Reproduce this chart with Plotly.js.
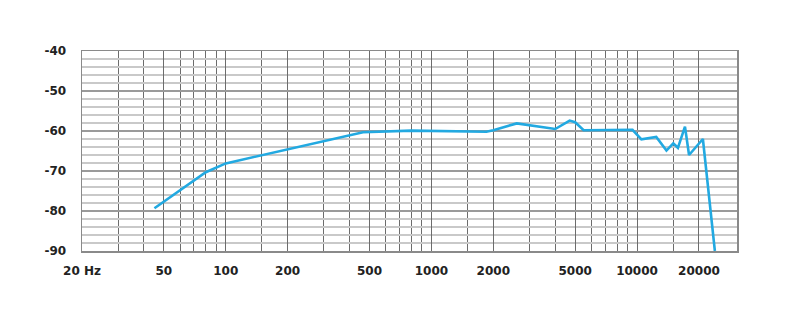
<!DOCTYPE html>
<html>
<head>
<meta charset="utf-8">
<script src="https://cdn.plot.ly/plotly-3.0.1.min.js"></script>
<style>
html,body{margin:0;padding:0;background:#fff;}
#chart{width:793px;height:320px;}
</style>
</head>
<body>
<div id="chart"></div>
<script>
// Frequency response data (Hz, dB)
var freqHz = [45, 80, 100, 150, 200, 300, 465, 800, 1000, 1850, 2000, 2600, 4000, 4700, 5000, 5500, 9500, 10500, 12400, 13900, 15000, 15800, 17100, 17900, 20900, 23900];
var levelDb = [-79.3, -70.3, -68.1, -66.0, -64.6, -62.6, -60.3, -59.9, -60.0, -60.2, -59.8, -58.1, -59.5, -57.4, -57.8, -59.8, -59.7, -62.1, -61.5, -64.9, -63.1, -64.2, -58.9, -66.0, -62.0, -90.0];

var xTickVals = [20, 50, 100, 200, 500, 1000, 2000, 5000, 10000, 20000];
var xTickText = ['20 Hz', '50', '100', '200', '500', '1000', '2000', '5000', '10000', '20000'];
var xMinorVals = [30, 40, 60, 70, 80, 90, 150, 300, 400, 600, 700, 800, 900, 1500, 3000, 4000, 6000, 7000, 8000, 9000, 15000];
var yTickVals = [-90, -80, -70, -60, -50, -40];
var yTickText = ['-90', '-80', '-70', '-60', '-50', '-40'];

var trace = {
  x: freqHz,
  y: levelDb,
  type: 'scatter',
  mode: 'lines',
  line: {color: '#22a9e1', width: 2.6},
  hoverinfo: 'x+y'
};

var layout = {
  width: 793,
  height: 320,
  margin: {l: 82, r: 56, t: 51, b: 69},
  paper_bgcolor: '#fff',
  plot_bgcolor: '#fff',
  showlegend: false,
  font: {family: 'DejaVu Sans, sans-serif', size: 12, color: '#222'},
  xaxis: {
    type: 'log',
    range: [Math.log10(20), 4.486],
    tickmode: 'array',
    tickvals: xTickVals,
    ticktext: xTickText,
    tickfont: {family: 'DejaVu Sans, sans-serif', size: 12, color: '#222', weight: 'bold'},
    showgrid: true,
    gridcolor: '#6c6c6c',
    gridwidth: 1,
    minor: {tickmode: 'array', tickvals: xMinorVals, showgrid: true, gridcolor: '#6c6c6c', gridwidth: 1, ticks: ''},
    ticks: '',
    ticklabelstandoff: 8,
    showline: true,
    mirror: true,
    linecolor: '#8a8a8a',
    linewidth: 1.5,
    zeroline: false,
    fixedrange: true
  },
  yaxis: {
    range: [-90, -40],
    tickmode: 'array',
    tickvals: yTickVals,
    ticktext: yTickText,
    tickfont: {family: 'DejaVu Sans, sans-serif', size: 12, color: '#222', weight: 'bold'},
    showgrid: true,
    gridcolor: '#9a9a9a',
    gridwidth: 1.5,
    minor: {dtick: 2, showgrid: true, gridcolor: '#c9c9c9', gridwidth: 1.6, ticks: ''},
    ticks: '',
    ticklabelstandoff: 12,
    showline: true,
    mirror: true,
    linecolor: '#8a8a8a',
    linewidth: 1.5,
    zeroline: false,
    fixedrange: true
  }
};

Plotly.newPlot('chart', [trace], layout, {displayModeBar: false, staticPlot: true});
</script>
</body>
</html>
